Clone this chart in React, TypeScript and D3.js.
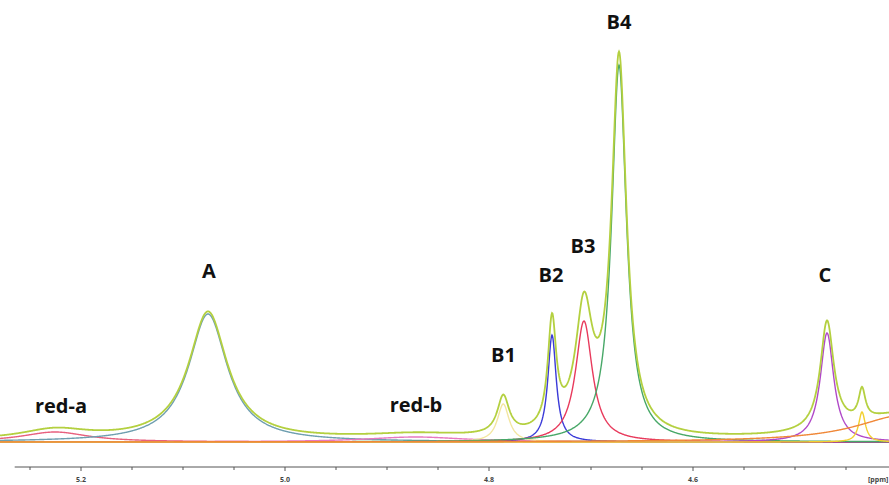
import React from "react";
import * as d3 from "d3";

// Fitted NMR components (ppm centre, intensity, half-width at half-maximum in ppm)
const peakNames = ["red-a", "A", "red-b", "B1", "B2", "B3", "B4", "C", "D", "E"];
const peakCenters = [5.2255, 5.0755, 4.872, 4.786, 4.7382, 4.7069, 4.6725, 4.4686, 4.4343, 4.392];
const peakHeights = [10, 128, 5, 38, 107, 121, 377, 109, 30, 27];
const peakWidths = [0.04, 0.023, 0.06, 0.007, 0.005, 0.01, 0.0088, 0.008, 0.004, 0.058];
const peakColors = ["#e8607e", "#6f9fb0", "#e878c0", "#f3e6a0", "#3a3ad8", "#e83a5c", "#48a868", "#b048c8", "#f2d030", "#f08838"];
const sumColor = "#b4d040";

const majorTicks = [5.2, 5.0, 4.8, 4.6];
const tickLabels = ["5.2", "5.0", "4.8", "4.6"];
const minorTicks = [5.25, 5.15, 5.1, 5.05, 4.95, 4.9, 4.85, 4.75, 4.7, 4.65, 4.55, 4.5, 4.45];

const labelText = ["red-a", "A", "red-b", "B1", "B2", "B3", "B4", "C"];
const labelPpm = [5.2196, 5.0745, 4.8716, 4.7858, 4.7392, 4.7078, 4.6725, 4.4706];
const labelIntensity = [29, 164, 30, 80, 160, 189, 413, 160];

const W = 889;
const H = 485;

export default function App() {
  const x = d3.scaleLinear().domain([5.0, 4.6]).range([285, 693]);
  const y = d3.scaleLinear().domain([0, 400]).range([442, 42]);

  const cols = d3.range(0, W + 1, 0.5);
  const ppms = cols.map((c) => x.invert(c));

  const comp = (i: number, p: number) => {
    const u = (p - peakCenters[i]) / peakWidths[i];
    return peakHeights[i] / (1 + u * u);
  };

  const line = d3
    .line<[number, number]>()
    .x((d) => x(d[0]))
    .y((d) => y(d[1]))
    .curve(d3.curveLinear);

  const compPaths = peakNames.map((_, i) => line(ppms.map((p) => [p, comp(i, p)] as [number, number])) || "");
  const sumPath =
    line(ppms.map((p) => [p, d3.sum(peakNames, (_, i) => comp(i, p)) + 1] as [number, number])) || "";

  const axisY = 467;
  const axisStart = x(5.265);

  return (
    <div style={{ position: "absolute", left: 0, top: 0, width: W, height: H, background: "#fff" }}>
      <svg width={W} height={H} style={{ display: "block" }}>
        <rect width={W} height={H} fill="#fff" />
        {compPaths.map((d, i) => (
          <path key={i} d={d} fill="none" stroke={peakColors[i]} strokeWidth={1.4} />
        ))}
        <path d={sumPath} fill="none" stroke={sumColor} strokeWidth={1.8} />
        {/* axis */}
        <line x1={axisStart} x2={W} y1={axisY} y2={axisY} stroke="#555" strokeWidth={1} />
        {majorTicks.map((t) => (
          <line key={"M" + t} x1={x(t)} x2={x(t)} y1={axisY} y2={axisY + 4} stroke="#555" strokeWidth={1} />
        ))}
        {minorTicks.map((t) => (
          <line key={"m" + t} x1={x(t)} x2={x(t)} y1={axisY} y2={axisY + 3} stroke="#555" strokeWidth={1} />
        ))}
        {majorTicks.map((t, i) => (
          <text
            key={"l" + t}
            x={x(t)}
            y={482}
            textAnchor="middle"
            fontFamily="Open Sans, sans-serif"
            fontWeight={700}
            fontSize={7}
            fill="#444"
          >
            {tickLabels[i]}
          </text>
        ))}
        <text x={868} y={482} fontFamily="Open Sans, sans-serif" fontWeight={700} fontSize={7} fill="#444">
          [ppm]
        </text>
        {labelText.map((t, i) => (
          <text
            key={t}
            x={x(labelPpm[i])}
            y={y(labelIntensity[i])}
            textAnchor="middle"
            fontFamily="Open Sans, sans-serif"
            fontWeight={700}
            fontSize={20}
            fill="#111"
          >
            {t}
          </text>
        ))}
      </svg>
    </div>
  );
}
